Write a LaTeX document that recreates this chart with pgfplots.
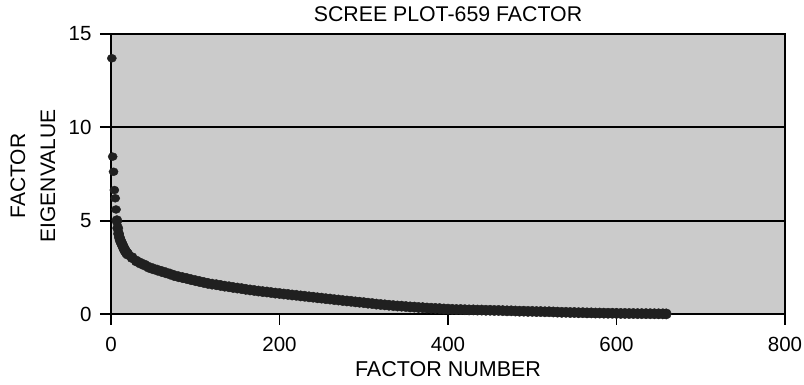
\documentclass[border=0pt]{standalone}
\usepackage{fontspec}
\setmainfont{Liberation Sans}
\usepackage{pgfplots}
\pgfplotsset{compat=1.18}
\definecolor{bggray}{HTML}{CBCBCB}
\definecolor{markdark}{HTML}{202020}
\begin{document}
\begin{tikzpicture}
\begin{axis}[
  at={(0,0)}, anchor=south west,
  scale only axis, width=674pt, height=280pt,
  xmin=0, xmax=800, ymin=0, ymax=15,
  xtick={0,200,...,800}, ytick={0,5,10,15},
  tick align=outside, tick pos=left,
  major tick length=11pt,
  axis line style={line width=1.8pt, black},
  every tick/.style={line width=1.8pt, black},
  ymajorgrids, grid style={line width=1.7pt, black},
  axis background/.style={fill=bggray},
  /pgf/number format/assume math mode=true,
  ticklabel style={font=\fontsize{20.5}{24}\selectfont},
  yticklabel style={xshift=-5pt},
  xticklabel style={yshift=-9pt},
  clip=false,
  xlabel={FACTOR NUMBER},
  xlabel style={font=\fontsize{21.5}{24}\selectfont, at={(axis description cs:0.5,-0.198)}, anchor=center},
  ylabel={FACTOR\\EIGENVALUE},
  ylabel style={font=\fontsize{21}{30}\selectfont, align=center, at={(axis description cs:-0.1157,0.493)}, anchor=center},
  title={SCREE PLOT-659 FACTOR},
  title style={font=\fontsize{21.3}{24}\selectfont, at={(axis description cs:0.5,1.05)}, anchor=center},
]
\addplot[only marks, mark=*, mark size=4pt, mark options={fill=markdark, draw=markdark, xscale=1.15}] coordinates {
(1,13.7) (2,8.43) (3,7.62) (4,6.64) (5,6.2) (6,5.6)
};
\addplot[only marks, mark=*, mark size=5.2pt, mark options={fill=markdark, draw=markdark}] coordinates {
(7,5.0) (8,4.6) (9,4.3) (10,4.1)
(11,3.95) (12,3.85) (13,3.75) (14,3.65) (15,3.55) (16,3.45) (17,3.38) (18,3.3) (19,3.25)
(20,3.20) (25,3.02) (30,2.84) (35,2.72) (40,2.62) (45,2.50) (50,2.42) (55,2.35) (60,2.28)
(65,2.21) (70,2.14) (75,2.06) (80,2.00) (85,1.95) (90,1.90) (95,1.84) (100,1.79)
(105,1.74) (110,1.69) (115,1.64) (120,1.60) (125,1.57) (130,1.53) (135,1.49) (140,1.46)
(145,1.42) (150,1.39) (155,1.36) (160,1.32) (165,1.29) (170,1.26) (175,1.23) (180,1.20)
(185,1.18) (190,1.15) (195,1.12) (200,1.10) (205,1.07) (210,1.05) (215,1.02) (220,1.00)
(225,0.97) (230,0.95) (235,0.92) (240,0.90) (245,0.87) (250,0.85) (255,0.82) (260,0.80)
(265,0.77) (270,0.75) (275,0.72) (280,0.70) (285,0.68) (290,0.65) (295,0.63) (300,0.61)
(305,0.58) (310,0.56) (315,0.53) (320,0.51) (325,0.49) (330,0.47) (335,0.45) (340,0.43)
(345,0.42) (350,0.40) (355,0.38) (360,0.37) (365,0.35) (370,0.34) (375,0.32) (380,0.31)
(385,0.30) (390,0.29) (395,0.27) (400,0.26) (405,0.25) (410,0.24) (415,0.24) (420,0.23)
(425,0.22) (430,0.22) (435,0.21) (440,0.21) (445,0.20) (450,0.20) (455,0.19) (460,0.19)
(465,0.18) (470,0.17) (475,0.17) (480,0.16) (485,0.15) (490,0.15) (495,0.14) (500,0.14)
(505,0.13) (510,0.13) (515,0.12) (520,0.12) (525,0.11) (530,0.10) (535,0.09) (540,0.09)
(545,0.08) (550,0.08) (555,0.07) (560,0.07) (565,0.06) (570,0.06) (575,0.05) (580,0.05)
(585,0.045) (590,0.04) (595,0.04) (600,0.035) (605,0.03) (610,0.03) (615,0.025) (620,0.025)
(625,0.02) (630,0.02) (635,0.018) (640,0.015) (645,0.013) (650,0.01) (655,0.008) (659,0.005)
};
\end{axis}
\pgfresetboundingbox
\path[use as bounding box] (-111pt,-71pt) rectangle (693pt,314pt);
\end{tikzpicture}
\end{document}
